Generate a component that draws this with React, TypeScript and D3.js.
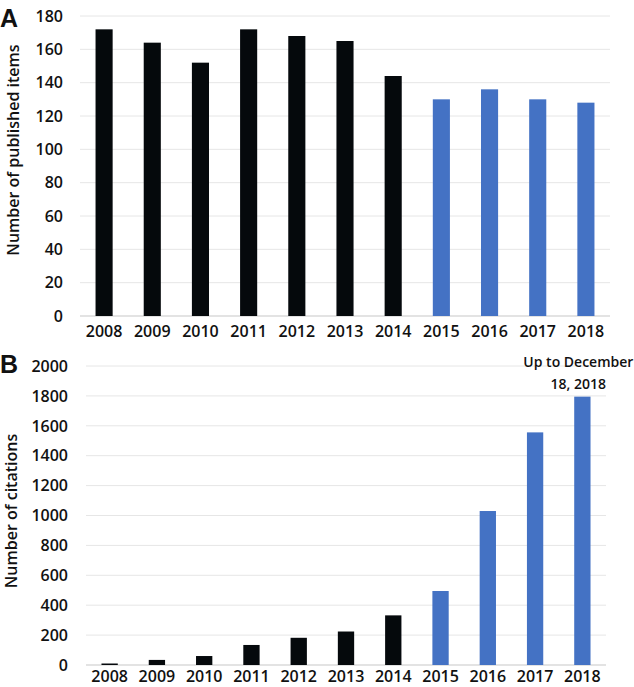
import React from "react";
import * as d3 from "d3";

const years = ["2008", "2009", "2010", "2011", "2012", "2013", "2014", "2015", "2016", "2017", "2018"];
const publishedItems = [172, 164, 152, 172, 168, 165, 144, 130, 136, 130, 128];
const citations = [10, 34, 60, 134, 182, 224, 332, 495, 1030, 1556, 1795];
const blueFrom = "2015";
const ticksA = [0, 20, 40, 60, 80, 100, 120, 140, 160, 180];
const ticksB = [0, 200, 400, 600, 800, 1000, 1200, 1400, 1600, 1800, 2000];
const annotationLines = ["Up to December", "18, 2018"];

const FONT = "'Open Sans', 'Liberation Sans', sans-serif";
const BLACK = "#05090c";
const BLUE = "#4472C4";
const GRID = "#e6e6e6";
const AXIS = "#c8c8c8";

type PanelProps = {
  values: number[];
  ticks: number[];
  max: number;
  left: number;
  right: number;
  top: number;
  bottom: number;
  tickRight: number;
  title: string;
  titleX: number;
  titleY: number;
  label: string;
  labelY: number;
  xLabelY: number;
  padding: number;
  annotation?: string[];
};

function Panel(p: PanelProps) {
  const x = d3.scaleBand<string>().domain(years).range([p.left, p.right]).paddingInner(p.padding).paddingOuter(p.padding / 2);
  const y = d3.scaleLinear().domain([0, p.max]).range([p.bottom, p.top]);
  const bw = x.bandwidth();
  return (
    <g>
      {p.ticks.map((t) => (
        <line key={"g" + t} x1={p.left} x2={p.right} y1={y(t)} y2={y(t)} stroke={t === 0 ? AXIS : GRID} strokeWidth={t === 0 ? 1.2 : 1} />
      ))}
      {p.ticks.map((t) => (
        <text key={"t" + t} x={p.tickRight} y={y(t)} dy="0.36em" textAnchor="end" fontFamily={FONT} fontWeight={600} fontSize={16} fill="#111">
          {t}
        </text>
      ))}
      {years.map((yr, i) => (
        <rect
          key={yr}
          x={x(yr)}
          y={y(p.values[i])}
          width={bw}
          height={p.bottom - y(p.values[i])}
          fill={+yr >= +blueFrom ? BLUE : BLACK}
        />
      ))}
      {years.map((yr) => (
        <text key={"x" + yr} x={(x(yr) as number) + bw / 2} y={p.xLabelY} textAnchor="middle" fontFamily={FONT} fontWeight={600} fontSize={16} fill="#111">
          {yr}
        </text>
      ))}
      <text
        transform={`translate(${p.titleX},${p.titleY}) rotate(-90)`}
        textAnchor="middle"
        dy="0.36em"
        fontFamily={FONT}
        fontWeight={600}
        fontSize={16}
        fill="#111"
      >
        {p.title}
      </text>
      <text x={0} y={p.labelY} fontFamily="'Liberation Sans', Arial, sans-serif" fontWeight={700} fontSize={25} fill="#111">
        {p.label}
      </text>
      {p.annotation &&
        p.annotation.map((line, i) => (
          <text
            key={"a" + i}
            x={(x(years[years.length - 1]) as number) + bw / 2 - 4}
            y={p.top + 1 + i * 22}
            textAnchor="middle"
            fontFamily={FONT}
            fontWeight={600}
            fontSize={14}
            fill="#111"
          >
            {line}
          </text>
        ))}
    </g>
  );
}

export default function App() {
  return (
    <svg width={634} height={687} style={{ position: "absolute", left: 0, top: 0, background: "#fff" }}>
      <rect width={634} height={687} fill="#fff" />
      <Panel
        values={publishedItems}
        ticks={ticksA}
        max={180}
        left={80}
        right={610}
        top={16}
        bottom={316}
        tickRight={63}
        title="Number of published items"
        titleX={13}
        titleY={150}
        label="A"
        labelY={27}
        xLabelY={337}
        padding={0.645}
      />
      <Panel
        values={citations}
        ticks={ticksB}
        max={2000}
        left={86}
        right={606}
        top={366}
        bottom={665}
        tickRight={68}
        title="Number of citations"
        titleX={11}
        titleY={511}
        label="B"
        labelY={373}
        xLabelY={682}
        padding={0.655}
        annotation={annotationLines}
      />
    </svg>
  );
}
